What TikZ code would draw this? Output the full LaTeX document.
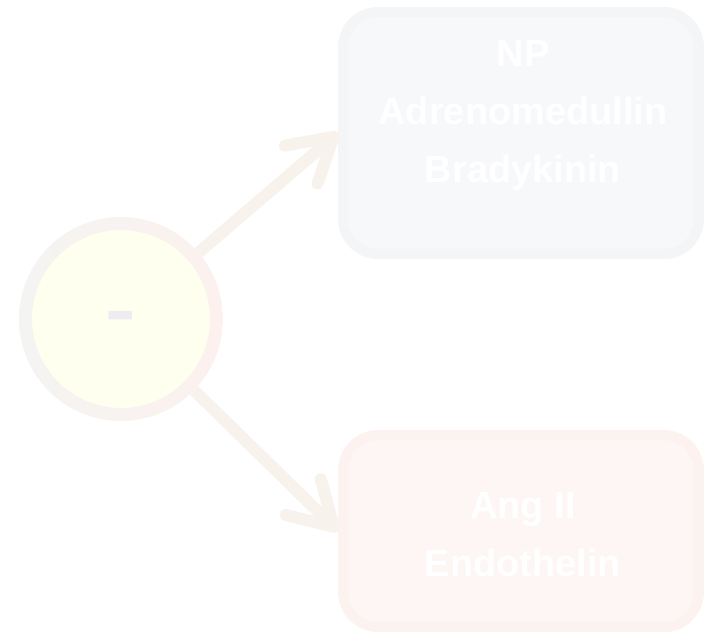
\documentclass[tikz,border=0pt]{standalone}
\usepackage{fontspec}
\setmainfont{Liberation Sans}
\usepackage{tikz}
\usetikzlibrary{arrows.meta,shadows}

\definecolor{ringleft}{HTML}{F4F4F2}
\definecolor{ringright}{HTML}{FCF1EE}
\definecolor{corecol}{HTML}{FFFFF0}
\definecolor{minuscol}{HTML}{EDEDF1}
\definecolor{upfill}{HTML}{F7F8FA}
\definecolor{updraw}{HTML}{F4F5F7}
\definecolor{downfill}{HTML}{FDF6F4}
\definecolor{downdraw}{HTML}{FCF3F0}
\definecolor{arrcol}{HTML}{F8F2EC}

\begin{document}
\begin{tikzpicture}[x=0.02cm, y=-0.02cm,
  box/.style = {rounded corners=0.7cm, line width=0.2cm, minimum width=7.12cm,
                drop shadow={opacity=0.04, shadow xshift=0.04cm, shadow yshift=-0.1cm}},
  lbl/.style = {align=center, text=white, font=\fontsize{21.6pt}{33pt}\selectfont\bfseries},
  arr/.style = {line width=0.24cm, arrcol, -{Straight Barb[round, length=0.85cm, width=1.0cm]}}]

\useasboundingbox (0,0) rectangle (704,635);

% the dot and its ring
\node [circle, fill=corecol, minimum size=4.08cm] (cyc) at (121,319) {};
\shade[left color=ringleft, right color=ringright, even odd rule]
  (cyc.center) circle (2.04cm) circle (1.78cm);
\node [text=minuscol, font=\fontsize{27pt}{27pt}\selectfont\bfseries] (minus) at (121,325) {\scalebox{1}[1.8]{–}};

\node [box, draw=updraw, fill=upfill, minimum height=4.84cm] (topbox) at (521,133) {};
\node [lbl] (toptxt) at (523,115) {NP\\Adrenomedullin\\Bradykinin};

\node [box, draw=downdraw, fill=downfill, minimum height=3.84cm] (lowbox) at (521,531) {};
\node [lbl] (lowtxt) at (523,535) {Ang II\\Endothelin};

\draw[arr] (cyc) -- (topbox.west);
\draw[arr] (cyc) -- (lowbox.west);
\end{tikzpicture}
\end{document}
